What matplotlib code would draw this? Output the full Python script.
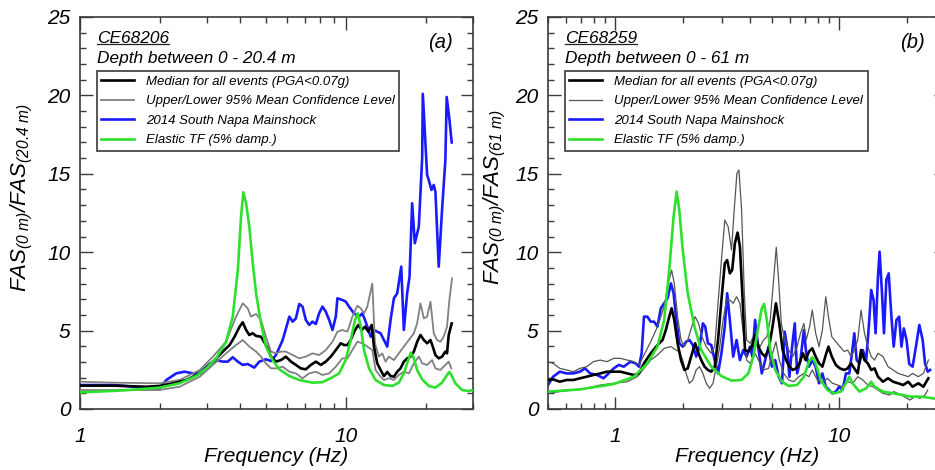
import numpy as np
import matplotlib
matplotlib.use("Agg")
import matplotlib.pyplot as plt
from matplotlib.ticker import FixedLocator, FuncFormatter, LogLocator, NullFormatter, MultipleLocator
from matplotlib.lines import Line2D

# ---------------------------------------------------------
# data: (frequency Hz, FAS ratio)
# ---------------------------------------------------------

# panel (a) - CE68206, 0 - 20.4 m
a_median = [(1.00, 1.49), (1.33, 1.49), (1.78, 1.42), (1.99, 1.47), (2.24, 1.64), (2.51, 1.85),
            (2.82, 2.27), (3.16, 3.02), (3.44, 3.66), (3.65, 4.08), (3.81, 4.61), (3.98, 5.25),
            (4.09, 5.53), (4.21, 5.04), (4.33, 4.72), (4.46, 4.83), (4.59, 4.66), (4.79, 4.61),
            (5.00, 4.08), (5.22, 3.34), (5.45, 3.02), (5.69, 3.12), (5.94, 3.34), (6.21, 3.02),
            (6.48, 2.81), (6.76, 2.59), (7.06, 2.53), (7.37, 2.81), (7.70, 3.02), (8.04, 2.81),
            (8.39, 3.02), (8.76, 3.34), (9.15, 3.76), (9.55, 4.19), (9.83, 4.08), (10.12, 4.08),
            (10.41, 4.40), (10.81, 5.04), (11.12, 5.36), (11.45, 5.04), (11.78, 5.25), (12.13, 4.93),
            (12.48, 5.36), (12.73, 3.98), (13.10, 2.91), (13.48, 2.49), (13.88, 2.10), (14.28, 2.36),
            (14.70, 2.10), (15.13, 2.06), (15.57, 2.38), (16.02, 2.59), (16.49, 3.02), (16.97, 3.23),
            (17.47, 3.34), (17.98, 3.66), (18.50, 4.29), (19.04, 4.72), (19.60, 4.40), (20.17, 4.19),
            (20.76, 4.40), (21.18, 3.98), (21.67, 3.44), (22.30, 3.23), (22.95, 3.34), (23.62, 3.66),
            (23.96, 3.55), (24.31, 4.72), (24.95, 5.46)]

a_upper = [(1.00, 1.74), (1.33, 1.68), (1.99, 1.64), (2.37, 1.85), (2.82, 2.49), (3.16, 3.34),
           (3.54, 4.29), (3.86, 5.89), (4.09, 6.74), (4.27, 6.42), (4.39, 5.89), (4.59, 6.06),
           (4.79, 5.68), (5.00, 4.61), (5.22, 3.66), (5.45, 3.55), (5.69, 3.66), (5.94, 3.66),
           (6.30, 3.44), (6.67, 3.23), (7.06, 3.34), (7.48, 3.55), (7.92, 3.44), (8.39, 3.76),
           (8.89, 4.29), (9.28, 4.93), (9.69, 5.04), (10.12, 4.93), (10.56, 5.89), (11.03, 6.59),
           (11.35, 6.42), (11.68, 6.10), (12.02, 6.53), (12.55, 8.00), (12.84, 4.19), (13.29, 3.34),
           (13.68, 3.55), (14.08, 3.02), (14.49, 3.34), (15.13, 3.12), (15.79, 3.55), (16.49, 3.98),
           (17.22, 4.40), (17.98, 4.83), (18.50, 5.46), (19.04, 6.74), (19.60, 5.78), (20.17, 5.89),
           (20.76, 6.85), (21.36, 4.83), (21.98, 4.40), (22.62, 4.29), (23.28, 4.61), (23.96, 5.25),
           (24.45, 6.95), (25.02, 8.33)]

a_lower = [(1.00, 1.21), (1.33, 1.21), (1.99, 1.21), (2.37, 1.42), (2.82, 2.06), (3.16, 2.81),
           (3.54, 3.55), (3.86, 4.08), (4.09, 4.40), (4.33, 3.98), (4.59, 3.66), (4.79, 3.34),
           (5.00, 2.91), (5.22, 2.59), (5.45, 2.59), (5.78, 2.70), (6.12, 2.38), (6.48, 2.27),
           (6.86, 1.96), (7.27, 2.27), (7.70, 2.38), (8.15, 2.17), (8.64, 2.27), (9.15, 2.70),
           (9.69, 3.23), (10.12, 3.23), (10.56, 3.76), (11.03, 4.29), (11.51, 4.19), (12.02, 3.98),
           (12.55, 3.76), (12.91, 2.49), (13.48, 2.06), (13.88, 1.85), (14.49, 1.96), (15.13, 1.85),
           (15.79, 2.17), (16.49, 2.38), (17.22, 2.27), (17.98, 2.91), (18.77, 3.34), (19.32, 2.91),
           (20.17, 2.81), (21.06, 3.12), (21.67, 2.59), (22.62, 2.49), (23.62, 2.81), (24.31, 3.02),
           (24.87, 2.59)]

a_napa = [(1.00, 1.53), (1.33, 1.53), (1.78, 1.36), (1.88, 1.25), (1.99, 1.30), (2.11, 1.85),
          (2.30, 2.27), (2.47, 2.38), (2.66, 2.27), (2.82, 2.32), (3.07, 2.87), (3.25, 3.12),
          (3.44, 3.02), (3.59, 3.02), (3.75, 3.30), (3.92, 3.02), (4.09, 2.81), (4.27, 2.87),
          (4.52, 2.64), (4.72, 3.02), (5.00, 3.17), (5.22, 3.06), (5.45, 3.44), (5.78, 4.40),
          (6.12, 5.89), (6.30, 5.57), (6.48, 5.78), (6.67, 6.70), (6.86, 6.53), (7.06, 5.68),
          (7.27, 5.36), (7.48, 5.57), (7.70, 5.42), (7.92, 6.10), (8.15, 6.53), (8.39, 6.21),
          (8.64, 5.68), (8.89, 5.04), (9.15, 5.89), (9.28, 7.06), (9.69, 6.95), (9.97, 6.85),
          (10.26, 6.53), (10.71, 6.10), (11.19, 5.89), (11.51, 6.10), (11.78, 5.68), (12.02, 5.25),
          (12.37, 4.61), (12.73, 5.04), (13.10, 4.93), (13.48, 4.83), (13.88, 4.40), (14.28, 3.98),
          (14.70, 5.68), (15.13, 7.06), (15.57, 7.38), (16.12, 9.08), (16.49, 5.04), (16.97, 7.38),
          (17.32, 8.44), (17.72, 13.12), (18.13, 10.57), (18.77, 11.63), (19.32, 16.00), (19.43, 20.10),
          (20.17, 14.92), (20.46, 14.60), (20.94, 13.97), (21.36, 14.29), (21.67, 13.86), (22.30, 9.08),
          (22.95, 12.69), (23.62, 15.88), (23.89, 19.90), (24.45, 18.50), (24.95, 17.00)]

a_tf = [(1.00, 1.06), (1.41, 1.17), (1.99, 1.36), (2.37, 1.64), (2.73, 2.10), (2.98, 2.59),
        (3.25, 3.23), (3.54, 4.29), (3.75, 5.89), (3.92, 8.86), (4.03, 12.27), (4.11, 13.82),
        (4.21, 13.12), (4.33, 11.63), (4.46, 9.29), (4.59, 7.38), (4.79, 5.46), (5.00, 3.98),
        (5.30, 3.12), (5.61, 2.53), (6.12, 2.10), (6.67, 1.85), (7.48, 1.68), (8.15, 1.71),
        (8.89, 2.02), (9.41, 2.27), (9.97, 3.12), (10.41, 4.40), (10.81, 5.68), (11.06, 6.10),
        (11.35, 5.30), (11.68, 3.76), (12.20, 2.59), (12.91, 1.85), (13.88, 1.53), (14.91, 1.47),
        (15.79, 1.68), (16.49, 2.27), (17.12, 3.12), (17.52, 3.59), (17.98, 3.23), (18.50, 2.49),
        (19.32, 1.89), (20.46, 1.47), (21.67, 1.36), (22.95, 1.68), (23.96, 2.17), (24.45, 2.36),
        (24.87, 2.17), (25.75, 1.64), (27.28, 1.21), (28.88, 1.15), (30.00, 1.20)]

# panel (b) - CE68259, 0 - 61 m
b_median = [(0.50, 1.85), (0.527, 1.89), (0.565, 1.74), (0.605, 1.85), (0.649, 1.85), (0.695, 1.96),
            (0.745, 2.06), (0.798, 2.17), (0.856, 2.27), (0.917, 2.38), (0.983, 2.38), (1.053, 2.38),
            (1.129, 2.27), (1.210, 2.17), (1.274, 2.27), (1.342, 2.91), (1.438, 3.55), (1.542, 4.08),
            (1.624, 4.40), (1.681, 5.04), (1.740, 5.89), (1.783, 6.42), (1.833, 5.68), (1.897, 4.19),
            (1.964, 3.12), (2.034, 2.49), (2.105, 2.59), (2.179, 3.34), (2.272, 4.19), (2.336, 3.66),
            (2.418, 3.12), (2.503, 2.70), (2.591, 2.49), (2.682, 2.38), (2.778, 2.70), (2.875, 4.40),
            (2.977, 6.95), (3.082, 9.29), (3.158, 9.50), (3.246, 8.65), (3.325, 8.86), (3.419, 10.57),
            (3.515, 11.25), (3.601, 10.35), (3.690, 7.38), (3.793, 3.76), (3.926, 3.66), (4.064, 3.98),
            (4.208, 4.72), (4.355, 3.98), (4.509, 3.55), (4.669, 3.34), (4.833, 3.76), (5.038, 5.25),
            (5.216, 6.74), (5.398, 5.46), (5.590, 3.76), (5.787, 3.12), (5.991, 2.70), (6.201, 2.49),
            (6.422, 2.59), (6.645, 2.91), (6.879, 3.55), (7.074, 3.12), (7.323, 3.66), (7.581, 3.87),
            (7.849, 3.34), (8.126, 2.91), (8.412, 2.70), (8.709, 3.44), (8.952, 3.98), (9.267, 3.34),
            (9.660, 2.81), (10.07, 2.59), (10.53, 2.49), (10.90, 2.59), (11.29, 2.91), (11.68, 2.59),
            (12.10, 2.27), (12.52, 3.76), (12.97, 3.12), (13.42, 2.91), (13.90, 2.49), (14.39, 2.59),
            (14.90, 2.06), (15.69, 1.74), (16.52, 1.96), (17.40, 1.74), (18.33, 1.64), (19.31, 1.53),
            (20.34, 1.74), (21.28, 1.42), (22.56, 1.64), (23.77, 1.42), (25.03, 1.96)]

b_upper = [(0.50, 3.02), (0.527, 2.91), (0.565, 2.59), (0.605, 2.49), (0.649, 2.38), (0.695, 2.59),
           (0.745, 2.70), (0.798, 3.02), (0.856, 3.12), (0.917, 3.02), (0.983, 3.23), (1.053, 3.23),
           (1.129, 3.12), (1.210, 3.02), (1.274, 2.81), (1.342, 3.44), (1.438, 4.29), (1.542, 5.25),
           (1.652, 6.53), (1.722, 8.01), (1.783, 8.86), (1.833, 8.01), (1.897, 5.89), (1.964, 4.40),
           (2.034, 3.98), (2.105, 4.40), (2.194, 5.25), (2.272, 5.89), (2.352, 5.46), (2.435, 4.61),
           (2.547, 3.98), (2.682, 3.55), (2.778, 3.98), (2.875, 6.74), (2.977, 9.50), (3.082, 12.05),
           (3.190, 11.63), (3.303, 10.14), (3.395, 12.69), (3.491, 15.03), (3.564, 15.24), (3.664, 12.69),
           (3.767, 7.38), (3.859, 4.40), (3.995, 4.19), (4.136, 4.61), (4.281, 4.29), (4.432, 3.98),
           (4.588, 4.40), (4.750, 4.61), (4.918, 5.68), (5.091, 8.23), (5.234, 10.31), (5.361, 8.23),
           (5.512, 5.46), (5.707, 4.40), (5.950, 3.76), (6.201, 3.34), (6.486, 3.98), (6.715, 4.83),
           (6.953, 5.46), (7.122, 4.40), (7.374, 5.25), (7.581, 6.31), (7.849, 4.83), (8.126, 3.98),
           (8.412, 5.04), (8.709, 7.16), (8.952, 5.89), (9.267, 4.61), (9.660, 4.29), (10.07, 3.98),
           (10.53, 3.66), (10.90, 3.76), (11.29, 3.34), (11.68, 3.76), (12.10, 4.40), (12.52, 6.31),
           (12.97, 4.83), (13.42, 3.98), (13.90, 3.34), (14.39, 3.12), (14.90, 3.55), (15.69, 3.34),
           (16.52, 2.70), (17.40, 2.49), (18.33, 2.27), (19.31, 2.17), (20.34, 2.06), (21.28, 2.27),
           (22.56, 2.06), (23.77, 2.27), (25.03, 3.12)]

b_lower = [(0.50, 1.00), (0.565, 1.11), (0.649, 1.21), (0.745, 1.32), (0.856, 1.53), (0.983, 1.64),
           (1.129, 1.74), (1.252, 2.06), (1.342, 2.59), (1.438, 3.12), (1.542, 3.44), (1.652, 3.87),
           (1.771, 3.98), (1.865, 3.76), (1.930, 3.66), (1.999, 3.12), (2.070, 2.27), (2.142, 1.64),
           (2.218, 1.85), (2.296, 2.49), (2.377, 2.70), (2.460, 2.27), (2.547, 1.64), (2.637, 1.32),
           (2.730, 1.64), (2.826, 2.70), (2.926, 3.98), (3.029, 5.68), (3.136, 6.95), (3.246, 6.95),
           (3.360, 6.74), (3.479, 7.16), (3.601, 6.74), (3.728, 4.83), (3.859, 3.12), (3.995, 2.91),
           (4.208, 3.55), (4.355, 3.12), (4.588, 2.49), (4.833, 2.59), (5.038, 3.55), (5.216, 4.29),
           (5.398, 3.12), (5.649, 2.27), (5.950, 1.85), (6.266, 1.74), (6.600, 2.06), (6.953, 2.27),
           (7.323, 2.06), (7.581, 2.49), (7.986, 1.85), (8.412, 1.64), (8.859, 1.96), (9.331, 1.64),
           (9.829, 1.53), (10.35, 1.42), (10.90, 1.74), (11.48, 1.64), (12.10, 2.06), (12.75, 1.85),
           (13.42, 1.53), (14.14, 1.42), (14.90, 1.21), (15.69, 1.00), (16.81, 0.89), (17.52, 1.11),
           (18.97, 0.89), (20.70, 0.57), (21.80, 0.79), (22.96, 0.68), (24.18, 0.89), (24.86, 1.21)]

b_napa = [(0.50, 1.53), (0.527, 2.06), (0.565, 2.38), (0.605, 2.27), (0.649, 2.27), (0.695, 2.38),
          (0.732, 2.59), (0.771, 2.27), (0.827, 2.17), (0.886, 1.96), (0.933, 2.27), (0.983, 2.59),
          (1.035, 2.81), (1.090, 2.70), (1.169, 3.02), (1.231, 2.91), (1.274, 2.70), (1.310, 3.55),
          (1.342, 5.89), (1.389, 5.89), (1.438, 5.57), (1.489, 5.57), (1.542, 5.25), (1.596, 6.42),
          (1.652, 6.74), (1.711, 7.06), (1.771, 8.01), (1.820, 7.38), (1.865, 5.89), (1.930, 4.19),
          (1.999, 3.98), (2.070, 4.29), (2.142, 4.40), (2.218, 4.08), (2.296, 3.34), (2.377, 3.98),
          (2.460, 5.46), (2.520, 5.25), (2.591, 4.19), (2.682, 4.08), (2.778, 3.12), (2.875, 2.27),
          (2.977, 3.55), (3.082, 5.25), (3.158, 7.38), (3.246, 5.68), (3.360, 3.34), (3.479, 4.40),
          (3.601, 3.12), (3.728, 3.76), (3.859, 3.34), (3.995, 3.98), (4.093, 3.34), (4.208, 5.68),
          (4.326, 4.19), (4.509, 2.27), (4.669, 3.12), (4.833, 3.98), (5.004, 2.70), (5.180, 3.12),
          (5.361, 2.06), (5.552, 1.64), (5.707, 4.93), (5.847, 3.98), (5.991, 2.06), (6.159, 3.98),
          (6.331, 5.46), (6.486, 2.27), (6.715, 3.12), (6.953, 5.04), (7.122, 3.55), (7.323, 2.70),
          (7.581, 3.12), (7.849, 2.70), (8.126, 1.64), (8.412, 2.27), (8.709, 1.42), (9.014, 1.21),
          (9.331, 1.00), (9.660, 1.11), (10.00, 1.42), (10.35, 1.21), (10.72, 2.27), (11.09, 2.27),
          (11.40, 3.55), (11.68, 4.83), (11.97, 3.12), (12.31, 2.91), (12.75, 3.76), (13.20, 3.12),
          (13.56, 5.25), (13.90, 7.59), (14.24, 6.95), (14.54, 4.83), (14.90, 8.44), (15.15, 10.03),
          (15.53, 7.38), (15.85, 4.83), (16.24, 8.23), (16.64, 8.65), (17.11, 5.89), (17.52, 3.98),
          (18.02, 5.68), (18.52, 5.89), (18.97, 3.98), (19.44, 5.14), (19.99, 4.40), (20.55, 2.87),
          (21.28, 2.70), (22.02, 3.98), (22.80, 5.36), (23.60, 4.40), (24.18, 2.91), (24.86, 2.38),
          (25.47, 2.49)]

b_tf = [(0.50, 1.11), (0.695, 1.25), (0.983, 1.59), (1.210, 2.06), (1.389, 2.91), (1.542, 3.98),
        (1.652, 5.68), (1.740, 8.86), (1.820, 12.27), (1.878, 13.86), (1.930, 12.69), (1.999, 10.14),
        (2.105, 7.38), (2.256, 5.25), (2.418, 3.76), (2.682, 2.70), (2.977, 2.10), (3.303, 1.81),
        (3.664, 1.85), (3.926, 2.27), (4.136, 3.34), (4.355, 5.25), (4.509, 6.42), (4.620, 6.70),
        (4.750, 5.68), (4.918, 3.76), (5.180, 2.49), (5.552, 1.74), (5.950, 1.47), (6.486, 1.53),
        (6.953, 2.06), (7.323, 3.02), (7.581, 3.30), (7.849, 2.91), (8.267, 1.85), (8.859, 1.21),
        (9.494, 1.00), (10.17, 1.11), (10.72, 1.64), (11.09, 2.06), (11.48, 1.64), (12.31, 1.11),
        (13.20, 1.32), (13.90, 1.74), (14.39, 1.42), (15.69, 1.11), (17.40, 1.00), (19.31, 0.89),
        (20.70, 0.79), (22.96, 0.79), (24.60, 0.74), (27.30, 0.64)]

labels = ["Median for all events (PGA<0.07g)",
          "Upper/Lower 95% Mean Confidence Level",
          "2014 South Napa Mainshock",
          "Elastic TF (5% damp.)"]

BLUE = "#1a1aff"
GREEN = "#2ee02e"
AXCOL = "#3a3a3a"

plt.rcParams['font.family'] = ['Liberation Sans', 'DejaVu Sans']
plt.rcParams['font.style'] = 'italic'
plt.rcParams['mathtext.fontset'] = 'custom'
plt.rcParams['mathtext.rm'] = 'Liberation Sans:italic'
plt.rcParams['mathtext.it'] = 'Liberation Sans:italic'
plt.rcParams['mathtext.default'] = 'it'

fig = plt.figure(figsize=(9.35, 4.7), dpi=100)
ax_a = fig.add_axes([80 / 935, 61 / 470, 393 / 935, 392 / 470])
ax_b = fig.add_axes([548 / 935, 61 / 470, 398 / 935, 392 / 470])


def xy(pts):
    arr = np.array(pts)
    return arr[:, 0], arr[:, 1]


def panel(ax, xmin, med, up, lo, napa, tf, ci_col, ci_lw, site, depth, tag, ylab, lab_x):
    h1, = ax.plot(*xy(med), color='black', lw=1.9, zorder=4)
    h2, = ax.plot(*xy(up), color=ci_col, lw=ci_lw, zorder=3)
    ax.plot(*xy(lo), color=ci_col, lw=ci_lw, zorder=3)
    h3, = ax.plot(*xy(napa), color=BLUE, lw=1.9, zorder=2)
    h4, = ax.plot(*xy(tf), color=GREEN, lw=1.9, zorder=5)

    ax.set_xscale('log')
    ax.set_xlim(xmin, 30)
    ax.set_ylim(0, 25)
    ax.xaxis.set_major_locator(FixedLocator([1, 10]))
    ax.xaxis.set_major_formatter(FuncFormatter(lambda v, p: f"{v:g}"))
    ax.xaxis.set_minor_locator(LogLocator(base=10, subs=np.arange(2, 10)))
    ax.xaxis.set_minor_formatter(NullFormatter())
    ax.yaxis.set_major_locator(MultipleLocator(5))
    ax.yaxis.set_minor_locator(MultipleLocator(1))

    ax.tick_params(which='both', direction='in', top=True, right=True, color=AXCOL, width=1.0)
    ax.tick_params(which='major', length=9, labelsize=15)
    ax.tick_params(which='minor', length=4.5)
    ax.tick_params(axis='x', pad=13)
    ax.tick_params(axis='y', pad=7)
    for s in ax.spines.values():
        s.set_color(AXCOL)
        s.set_linewidth(1.2)

    ax.set_xlabel("Frequency (Hz)", fontsize=15, labelpad=1)
    ax.set_ylabel(ylab, fontsize=16)
    ax.yaxis.set_label_coords(lab_x, 0.54)

    site_txt = ax.text(0.043, 0.944, site, transform=ax.transAxes, fontsize=12.4, va='center')
    ax.text(0.043, 0.895, depth, transform=ax.transAxes, fontsize=12.4, va='center')
    ax.text(0.948, 0.934, tag, transform=ax.transAxes, fontsize=14.5, va='center', ha='right')

    leg = ax.legend([h1, h2, h3, h4], labels, loc='upper left', bbox_to_anchor=(0.042, 0.862),
                    borderaxespad=0, fontsize=9.5, handlelength=2.5, handletextpad=0.9,
                    labelspacing=0.55, borderpad=0.35, fancybox=False, framealpha=1)
    leg.get_frame().set_edgecolor(AXCOL)
    leg.get_frame().set_linewidth(1.2)
    leg.set_zorder(10)
    return site_txt


t_a = panel(ax_a, 1, a_median, a_upper, a_lower, a_napa, a_tf, '#808080', 1.3,
            "CE68206", "Depth between 0 - 20.4 m", "(a)",
            r"$FAS_{(0\ m)}/FAS_{(20.4\ m)}$", -0.115)
t_b = panel(ax_b, 0.5, b_median, b_upper, b_lower, b_napa, b_tf, '#555555', 0.9,
            "CE68259", "Depth between 0 - 61 m", "(b)",
            r"$FAS_{(0\ m)}/FAS_{(61\ m)}$", -0.101)

# underline the station names
fig.canvas.draw()
inv = fig.transFigure.inverted()
for t in (t_a, t_b):
    bb = t.get_window_extent()
    (x0, y0), (x1, _) = inv.transform([[bb.x0, bb.y0 + 2], [bb.x1, bb.y0 + 2]])
    fig.add_artist(Line2D([x0, x1], [y0, y0], color='#222222', lw=0.9))

fig.savefig("out.png", dpi=100)
